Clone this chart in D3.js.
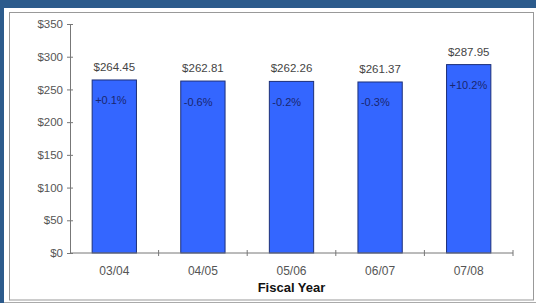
<!DOCTYPE html>
<html>
<head>
<meta charset="utf-8">
<script src="https://cdn.jsdelivr.net/npm/d3@7"></script>
<style>
  body { margin: 0; background: #2c5b8c; overflow: hidden; }
  svg { display: block; }
</style>
</head>
<body>
<svg id="chart"></svg>
<script>
const years = ["03/04", "04/05", "05/06", "06/07", "07/08"];
const values = [264.45, 262.81, 262.26, 261.37, 287.95];
const changes = ["+0.1%", "-0.6%", "-0.2%", "-0.3%", "+10.2%"];
const yTicks = [0, 50, 100, 150, 200, 250, 300, 350];

const W = 536, H = 303;
const margin = { top: 24, right: 23, bottom: 50, left: 70 };
const width = W - margin.left - margin.right;
const height = H - margin.top - margin.bottom;
const font = "Liberation Sans, Arial, sans-serif";

const svg = d3.select("#chart").attr("width", W).attr("height", H);

// white panel with grey frame
svg.append("rect").attr("x", 4).attr("y", 8).attr("width", W - 4).attr("height", H - 8).attr("fill", "#fff");
svg.append("rect").attr("x", 9.5).attr("y", 12.5).attr("width", 524).attr("height", 287.5)
    .attr("fill", "none").attr("stroke", "#999").attr("stroke-width", 1);
svg.append("line").attr("x1", 4).attr("x2", W).attr("y1", H - 0.5).attr("y2", H - 0.5)
    .attr("stroke", "#aaa");

const g = svg.append("g").attr("transform", `translate(${margin.left},${margin.top})`);

const x = d3.scaleBand().domain(years).range([0, width]).paddingInner(0.5).paddingOuter(0.25);
const xEdge = d3.scaleLinear().domain([0, years.length]).range([0, width]);
const y = d3.scaleLinear().domain([0, 350]).range([height, 0]);

// y axis
const yAxis = g.append("g")
    .call(d3.axisLeft(y).tickValues(yTicks).tickSize(3).tickFormat(d => "$" + d));
yAxis.select(".domain").attr("stroke", "#777");
yAxis.selectAll(".tick line").attr("stroke", "#777").attr("x2", 3).attr("x1", -3);
yAxis.selectAll(".tick text").attr("x", -7).attr("fill", "#555")
    .style("font-family", font).style("font-size", "11.5px");

// bars
g.selectAll(".bar").data(values).join("rect")
    .attr("class", "bar")
    .attr("x", (d, i) => x(years[i]))
    .attr("y", d => y(d))
    .attr("width", x.bandwidth())
    .attr("height", d => height - y(d))
    .attr("fill", "#3466ff")
    .attr("stroke", "#1c2f78")
    .attr("stroke-width", 1);

// x axis line with boundary ticks
g.append("line").attr("x1", 0).attr("x2", width).attr("y1", height).attr("y2", height)
    .attr("stroke", "#777");
g.selectAll(".xtick").data(d3.range(1, years.length + 1)).join("line")
    .attr("class", "xtick")
    .attr("x1", d => xEdge(d)).attr("x2", d => xEdge(d))
    .attr("y1", height - 3).attr("y2", height + 3)
    .attr("stroke", "#777");

g.selectAll(".xlabel").data(years).join("text")
    .attr("class", "xlabel")
    .attr("x", d => x(d) + x.bandwidth() / 2)
    .attr("y", height + 22)
    .attr("text-anchor", "middle")
    .attr("fill", "#555")
    .style("font-family", font)
    .style("font-size", "12px")
    .text(d => d);

// value labels
g.selectAll(".val").data(values).join("text")
    .attr("class", "val")
    .attr("x", (d, i) => x(years[i]) + x.bandwidth() / 2)
    .attr("y", d => y(d) - 9)
    .attr("text-anchor", "middle")
    .attr("fill", "#444")
    .style("font-family", font)
    .style("font-size", "11.5px")
    .text(d => "$" + d.toFixed(2));

// change labels inside bars
g.selectAll(".chg").data(changes).join("text")
    .attr("class", "chg")
    .attr("x", (d, i) => x(years[i]) + 3)
    .attr("y", (d, i) => y(values[i]) + 24.5)
    .attr("fill", "#1a2670")
    .style("font-family", font)
    .style("font-size", "11px")
    .text(d => d);

// axis title
g.append("text")
    .attr("x", width / 2)
    .attr("y", height + 38.5)
    .attr("text-anchor", "middle")
    .attr("fill", "#111")
    .style("font-family", font)
    .style("font-size", "13px")
    .style("font-weight", "bold")
    .text("Fiscal Year");
</script>
</body>
</html>
